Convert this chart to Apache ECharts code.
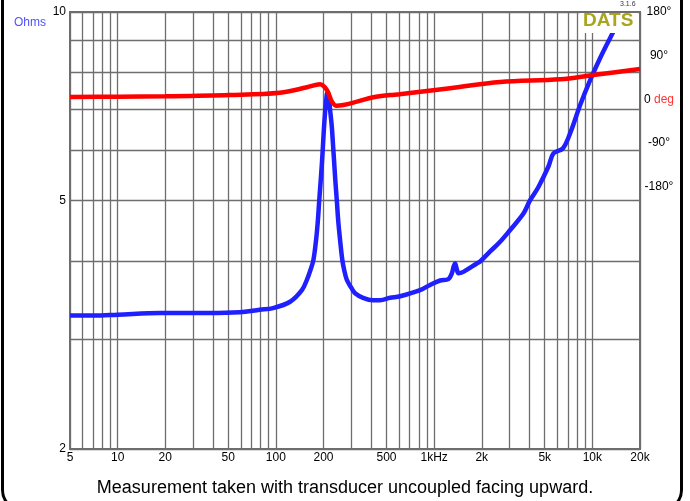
<!DOCTYPE html>
<html><head><meta charset="utf-8">
<script src="https://cdn.jsdelivr.net/npm/echarts@6/dist/echarts.min.js"></script>
<style>html,body{margin:0;padding:0;background:#fff}#c{width:690px;height:501px}</style>
</head><body><div id="c"></div>
<script>
const freqGrid = [5,6,7,8,9,10,20,30,40,50,60,70,80,90,100,200,300,400,500,600,700,800,900,1000,2000,3000,4000,5000,6000,7000,8000,9000,10000,20000];
const freqLabels = [5,10,20,50,100,200,500,1000,2000,5000,10000,20000];
const ohmGrid = [2,3,4,5,6,7,8,9,10];
const ohmLabels = [2,5,10];
const phaseLabels = [180,90,0,-90,-180];

const impFreq = [5,7,10,18.5,38,59,79,96,123,146,157,165,172.6,179.5,184,188,192,196,199,201.6,204.5,207,211.5,216,220,225.6,229,233,237,242.6,248,254.5,263,270,280.6,300,316.6,355.7,411,455,527,609,815,943,1091,1231,1294,1330,1358,1390,1424,1531,1861,1953,2259,2612,3022,3668,4043,4563,5277,5676,6508,7238,8373,9684,11200,12950,15200];
const impOhms = [3.27,3.27,3.28,3.30,3.30,3.31,3.34,3.36,3.44,3.59,3.73,3.86,4.01,4.32,4.62,5.0,5.38,5.8,6.2,6.56,6.9,7.15,7.42,7.3,6.98,6.56,6.2,5.8,5.42,5.0,4.62,4.32,4.01,3.87,3.73,3.62,3.55,3.49,3.46,3.46,3.49,3.51,3.59,3.66,3.72,3.74,3.82,3.92,3.96,3.88,3.82,3.84,3.96,3.99,4.14,4.29,4.48,4.76,5.0,5.25,5.66,5.94,6.05,6.40,7.10,7.78,8.44,9.09,9.85];

const phaseFreq = [5,10,20,51,106,157,190,210,226,240,267,325,413,527,604,1262,2612,6255,10115,20000];
const phaseDeg = [4.9,5.5,6.4,9.1,13.8,24.9,31.1,19.4,-4.7,-13,-11.5,-4.7,4.3,9.1,10.5,23,35.8,41.4,50.3,62.5];

const FONT = "'Liberation Sans', Arial, sans-serif";
const chart = echarts.init(document.getElementById('c'), null, {renderer: 'canvas'});

function fmtFreq(v) {
  v = Math.round(v);
  if (v === 1000) return '1kHz';
  if (v >= 2000) return (v / 1000) + 'k';
  return String(v);
}

chart.setOption({
  animation: false,
  backgroundColor: '#fff',
  grid: {left: 70, right: 50, top: 12, bottom: 52, show: true, borderColor: '#6e6e6e', borderWidth: 2, containLabel: false},
  xAxis: {
    type: 'log', logBase: 10, min: 5, max: 20000,
    axisLine: {show: false},
    axisTick: {show: false, customValues: freqGrid},
    axisLabel: {customValues: freqLabels, formatter: fmtFreq, color: '#000', fontSize: 12, fontFamily: FONT, margin: 3},
    splitLine: {show: true, lineStyle: {color: '#6e6e6e', width: 1.3}},
    minorTick: {show: false}, minorSplitLine: {show: false}
  },
  yAxis: [{
    type: 'log', logBase: 10, min: 2, max: 10, position: 'left',
    axisLine: {show: false},
    axisTick: {show: false, customValues: ohmGrid},
    axisLabel: {customValues: ohmLabels, color: '#000', fontSize: 12, fontFamily: FONT, margin: 4, formatter: v => String(Math.round(v))},
    splitLine: {show: true, lineStyle: {color: '#6e6e6e', width: 1.3}}
  }, {
    type: 'value', min: -720, max: 180, interval: 90, position: 'right',
    axisLine: {show: false}, axisTick: {show: false}, splitLine: {show: false},
    axisLabel: {
      margin: 19, align: 'center', color: '#000', fontSize: 12, fontFamily: FONT,
      formatter: v => {
        if (phaseLabels.indexOf(v) < 0) return '';
        if (v === 0) return '0 {r|deg}';
        return v + '°';
      },
      rich: {r: {color: '#ff3333', fontSize: 12, fontFamily: FONT}}
    }
  }],
  series: [{
    type: 'line', name: 'Impedance', yAxisIndex: 0,
    data: impFreq.map((f, i) => [f, impOhms[i]]),
    showSymbol: false, smooth: 0.35, clip: true,
    lineStyle: {color: '#1f1fff', width: 4.5}, z: 2
  }, {
    type: 'line', name: 'Phase', yAxisIndex: 1,
    data: phaseFreq.map((f, i) => [f, phaseDeg[i]]),
    showSymbol: false, smooth: 0.35, clip: true,
    lineStyle: {color: '#ff0000', width: 4.5}, z: 3
  }],
  graphic: [
    {type: 'rect', z: 100, shape: {x: 580, y: 13, width: 58, height: 20}, style: {fill: '#fff'}},
    {type: 'text', z: 101, left: 583, top: 11, style: {text: 'DATS', fill: '#aaa51c', font: "bold 19px " + FONT}},
    {type: 'text', z: 101, left: 620, top: 1, style: {text: '3.1.6', fill: '#335', font: "7px " + FONT}},
    {type: 'text', z: 101, left: 14, top: 17, style: {text: 'Ohms', fill: '#5050ff', font: "12px " + FONT}},
    {type: 'text', z: 101, left: 'center', top: 479, style: {text: 'Measurement taken with transducer uncoupled facing upward.', fill: '#000', font: "18px " + FONT}},
    {type: 'rect', z: 110, shape: {x: 2.5, y: -30, width: 679, height: 540, r: 20}, style: {fill: 'none', stroke: '#000', lineWidth: 3}}
  ]
});
</script></body></html>
